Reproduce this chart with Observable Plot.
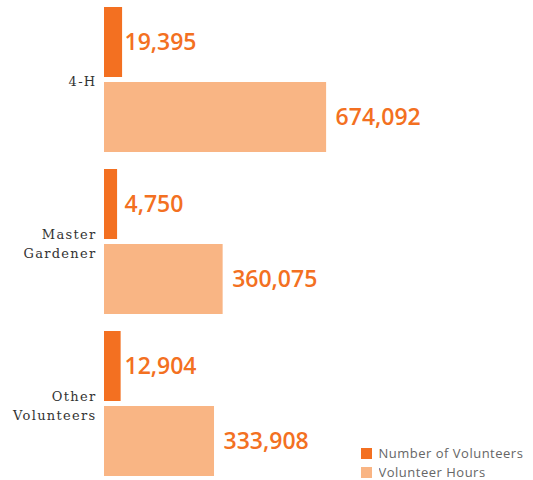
<!DOCTYPE html>
<html>
<head>
<meta charset="utf-8">
<script src="https://cdn.jsdelivr.net/npm/d3@7"></script>
<script src="https://cdn.jsdelivr.net/npm/@observablehq/plot@0.6"></script>
<style>
  html, body { margin: 0; padding: 0; background: #fff; }
  #wrap { position: relative; width: 533px; height: 480px; }
  #wrap > svg { position: absolute; left: 0; top: 0; background: transparent; overflow: visible; }
  #wrap g[aria-label="fy-axis tick label"] { letter-spacing: 1.3px; }
</style>
</head>
<body>
<div id="wrap"></div>
<script>
const categories = ["4-H", "Master Gardener", "Other Volunteers"];
const categoryLabels = ["4-H", "Master\nGardener", "Other\nVolunteers"];
const series = ["Number of Volunteers", "Volunteer Hours"];
const volunteers = [19395, 4750, 12904];
const hours = [674092, 360075, 333908];
const colors = ["#f37021", "#f9b584"];

const volRows = categories.map((c, i) => ({category: c, series: series[0], value: volunteers[i]}));
const hourRows = categories.map((c, i) => ({category: c, series: series[1], value: hours[i]}));
const fmt = d3.format(",");

const W = 533, H = 480;
const common = {
  width: W, height: H,
  marginTop: 6, marginBottom: 3, marginLeft: 104, marginRight: 0,
  fy: {domain: categories, paddingInner: 0.105, paddingOuter: 0},
  y: {domain: series, paddingInner: 0.07, paddingOuter: 0, axis: null},
  color: {domain: series, range: colors},
  style: {background: "transparent"}
};
const valueFont = {fontSize: 23, fontWeight: 600, fontFamily: "'Open Sans', sans-serif", fill: colors[0], textAnchor: "start"};

// Plot A: volunteer hours (linear scale), value labels, category axis
const plotA = Plot.plot({
  ...common,
  x: {domain: [0, 1302000], range: [104, 533], axis: null},
  marks: [
    Plot.barX(hourRows, {fy: "category", y: "series", x: "value", fill: "series"}),
    Plot.text(hourRows, {fy: "category", y: "series", x: "value", text: d => fmt(d.value), dx: 9, ...valueFont}),
    Plot.text(volRows, {fy: "category", y: "series", frameAnchor: "left", text: d => fmt(d.value), dx: 20, ...valueFont}),
    Plot.axisFy({
      anchor: "left", label: null, tickSize: 0, tickPadding: 8,
      tickFormat: c => categoryLabels[categories.indexOf(c)],
      fontSize: 13, fontFamily: "'DejaVu Serif', serif", fill: "#333", lineHeight: 1.5
    })
  ]
});

// Plot B: number of volunteers, drawn on its own (log) scale as in the original graphic
const volMin = 120;
const plotB = Plot.plot({
  ...common,
  fy: {...common.fy, axis: null},
  x: {type: "log", domain: [volMin, 1e6], range: [104, 136.1], axis: null},
  marks: [
    Plot.barX(volRows, {fy: "category", y: "series", x1: () => volMin, x2: "value", fill: "series"})
  ]
});

const wrap = document.getElementById("wrap");
wrap.appendChild(plotA);
wrap.appendChild(plotB);

const legend = Plot.legend({
  color: {domain: series, range: colors},
  legend: "swatches", columns: 1, swatchSize: 11, swatchWidth: 11, swatchHeight: 11,
  style: {fontSize: "13px", fontFamily: "'Open Sans', sans-serif", color: "#666", letterSpacing: "0.5px"}
});
legend.style.position = "absolute";
legend.style.left = "361px";
legend.style.top = "444px";
legend.style.margin = "0";
wrap.appendChild(legend);
</script>
</body>
</html>
